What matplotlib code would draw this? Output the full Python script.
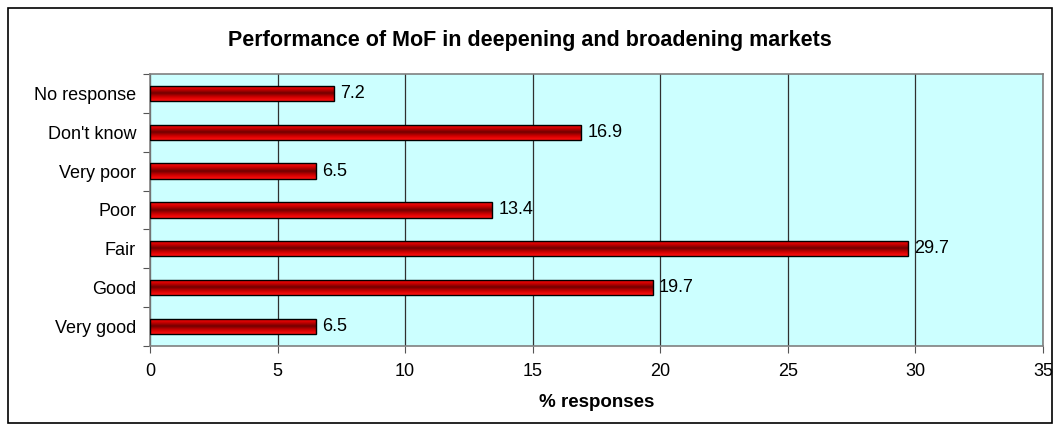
import numpy as np
import matplotlib
matplotlib.use("Agg")
import matplotlib.pyplot as plt
from matplotlib.patches import Rectangle
from matplotlib.colors import LinearSegmentedColormap

plt.rcParams['font.family'] = ['Liberation Sans', 'DejaVu Sans']

categories = ['Very good', 'Good', 'Fair', 'Poor', 'Very poor', "Don't know", 'No response']
values = [6.5, 19.7, 29.7, 13.4, 6.5, 16.9, 7.2]

fig = plt.figure(figsize=(10.6, 4.32), dpi=100)
# outer frame
fig.patches.append(Rectangle((0.008, 0.02), 0.984, 0.962, transform=fig.transFigure,
                             fill=False, edgecolor='black', linewidth=1.2))

ax = fig.add_axes([0.1415, 0.199, 0.8425, 0.63])
ax.set_facecolor('#CCFFFF')

# cylinder shading for bars
cmap = LinearSegmentedColormap.from_list('cyl', ['#ff1010', '#d00000', '#700000', '#d00000', '#ff1010'])
grad = np.linspace(0, 1, 64).reshape(-1, 1)
bh = 0.39
bars = ax.barh(range(len(categories)), values, height=bh, color='none', edgecolor='black',
               linewidth=1.0, zorder=4)
for b in bars:
    x0, y0, w, h = b.get_x(), b.get_y(), b.get_width(), b.get_height()
    im = ax.imshow(grad, cmap=cmap, aspect='auto', extent=[x0, x0 + w, y0, y0 + h],
                   zorder=3, interpolation='bilinear')
    im.set_clip_path(b)
ax.set_xlim(0, 35)
ax.set_ylim(-0.5, len(categories) - 0.5)

for i, v in enumerate(values):
    ax.text(v + 0.25, i, f'{v:.1f}', va='center', ha='left', fontsize=13, zorder=5)

ax.set_xticks(range(0, 36, 5))
ax.xaxis.grid(True, color='#303030', linewidth=0.9)
ax.set_axisbelow(True)
ax.set_yticks(np.arange(-0.5, len(categories), 1))
ax.set_yticklabels([])
ax.set_yticks(range(len(categories)), minor=True)
ax.set_yticklabels(categories, minor=True, fontsize=13)
ax.tick_params(axis='y', which='minor', length=0, pad=10)
ax.tick_params(axis='y', which='major', length=5, color='#555555')
ax.tick_params(axis='x', length=5, labelsize=13, pad=7, color='#555555')
for s in ['top', 'right', 'left', 'bottom']:
    ax.spines[s].set_color('#808080')
    ax.spines[s].set_linewidth(1.2)

ax.set_xlabel('% responses', fontsize=13.5, fontweight='bold', labelpad=10)
fig.text(0.5, 0.907, 'Performance of MoF in deepening and broadening markets',
         ha='center', va='center', fontsize=15.5, fontweight='bold')

fig.savefig('out.png', dpi=100)
